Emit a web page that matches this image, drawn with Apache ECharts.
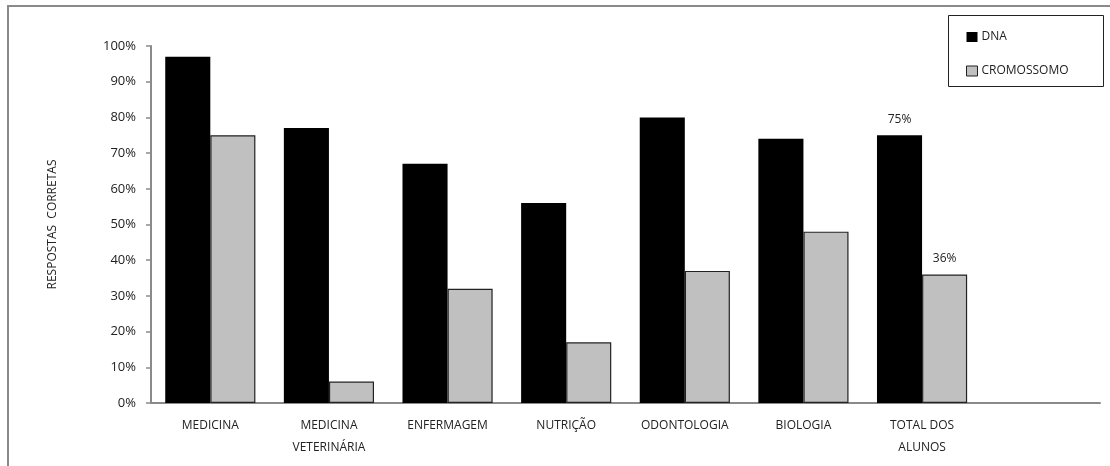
<!DOCTYPE html>
<html>
<head>
<meta charset="utf-8">
<script src="https://cdn.jsdelivr.net/npm/echarts@6/dist/echarts.min.js"></script>
<style>
  html, body { margin: 0; padding: 0; background: #fff; }
  #chart { width: 1110px; height: 466px; }
</style>
</head>
<body>
<div id="chart"></div>
<script>
// Course categories (last slot left empty as spacing on the axis)
const categories = ['MEDICINA', 'MEDICINA\nVETERINÁRIA', 'ENFERMAGEM', 'NUTRIÇÃO', 'ODONTOLOGIA', 'BIOLOGIA', 'TOTAL DOS\nALUNOS', ''];
// Percent of correct answers per course
const dnaValues = [97, 77, 67, 56, 80, 74, 75];
const cromossomoValues = [75, 6, 32, 17, 37, 48, 36];
// Only the overall total gets a value label
const labelledIndex = 6;
const yTicks = { min: 0, max: 100, interval: 10 };

const FONT = '"Open Sans", "Liberation Sans", sans-serif';

function withLabel(values) {
  return values.map((v, i) => i === labelledIndex
    ? { value: v, label: { show: true, position: 'top', distance: 10, formatter: '{c}%', color: '#222', fontSize: 12, fontFamily: FONT } }
    : v);
}

const chart = echarts.init(document.getElementById('chart'), null, { renderer: 'canvas' });
chart.setOption({
  animation: false,
  backgroundColor: '#fff',
  grid: { left: 151, right: 10, top: 46, bottom: 63, containLabel: false },
  graphic: [
    { type: 'rect', shape: { x: 8, y: 6, width: 1120, height: 480 }, style: { fill: 'none', stroke: '#8a8a8a', lineWidth: 2 }, silent: true },
    { type: 'rect', shape: { x: 948.5, y: 15.5, width: 155, height: 71 }, style: { fill: '#fff', stroke: '#222', lineWidth: 1 }, silent: true, z: 5 }
  ],
  legend: {
    orient: 'vertical',
    left: 961,
    top: 26,
    itemWidth: 11,
    itemHeight: 10,
    itemGap: 22,
    z: 10,
    textStyle: { color: '#222', fontSize: 12, fontFamily: FONT, padding: [0, 0, 0, -1] },
    data: [
      { name: 'DNA', icon: 'rect' },
      { name: 'CROMOSSOMO', icon: 'rect', itemStyle: { color: '#c0c0c0', borderColor: '#222', borderWidth: 1 } }
    ]
  },
  xAxis: {
    type: 'category',
    data: categories,
    axisLine: { lineStyle: { color: '#8a8a8a', width: 2 } },
    axisTick: { show: false },
    axisLabel: { color: '#222', fontSize: 12, fontFamily: FONT, margin: 12, lineHeight: 22, interval: 0 }
  },
  yAxis: {
    type: 'value',
    min: yTicks.min,
    max: yTicks.max,
    interval: yTicks.interval,
    name: 'RESPOSTAS  CORRETAS',
    nameLocation: 'middle',
    nameRotate: 90,
    nameGap: 92,
    nameTextStyle: { color: '#222', fontSize: 12, fontFamily: FONT },
    splitLine: { show: false },
    axisLine: { show: true, lineStyle: { color: '#8a8a8a', width: 2 } },
    axisTick: { show: true, length: 5, lineStyle: { color: '#8a8a8a', width: 1.5 } },
    axisLabel: { color: '#222', fontSize: 13, fontFamily: FONT, margin: 15, formatter: '{value}%' }
  },
  series: [
    {
      name: 'DNA',
      type: 'bar',
      data: withLabel(dnaValues),
      barGap: '0%',
      barCategoryGap: '24%',
      itemStyle: { color: '#000' }
    },
    {
      name: 'CROMOSSOMO',
      type: 'bar',
      data: withLabel(cromossomoValues),
      barGap: '0%',
      barCategoryGap: '24%',
      itemStyle: { color: '#c0c0c0', borderColor: '#222', borderWidth: 1.2 }
    }
  ]
});
</script>
</body>
</html>
